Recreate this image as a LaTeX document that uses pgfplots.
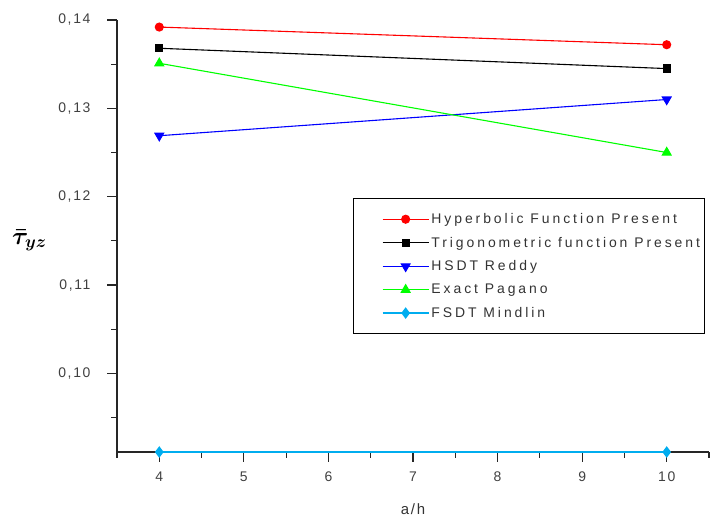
\documentclass[border=0pt]{standalone}
\usepackage{pgfplots}
\pgfplotsset{compat=1.18}
\usepackage{amsmath,amssymb}
\usepackage{fontspec}
\setmainfont{Liberation Sans}
\newfontfamily\legfont[LetterSpace=21]{Liberation Sans}
\newfontfamily\tickfont[LetterSpace=12]{Liberation Sans}
\begin{document}
\begin{tikzpicture}
\begin{axis}[
  set layers,
  at={(117bp,66bp)}, anchor=south west,
  scale only axis, width=592bp, height=432bp,
  xmin=3.5, xmax=10.5, ymin=0.0911, ymax=0.14,
  axis x line=bottom, axis y line=left,
  axis line style={-, line width=1.1bp, black!85},
  xtick={4,5,...,10}, minor xtick={3.5,4.5,...,10.5},
  ytick={0.10,0.11,0.12,0.13,0.14}, minor ytick={0.095,0.105,0.115,0.125,0.135},
  tick align=outside, major tick length=10bp, minor tick length=6bp,
  tick style={line width=1.1bp, black!85},
  ticklabel style={font=\tickfont\fontsize{14}{16}\selectfont, text=black!75},
  /pgf/number format/assume math mode=true,
  yticklabel style={xshift=-13bp, /pgf/number format/.cd, use comma, fixed, fixed zerofill, precision=2},
  xticklabel style={yshift=-6bp},
  xlabel={a/h}, ylabel={$\boldsymbol{\bar{\tau}_{yz}}$},
  xlabel style={at={(axis description cs:0.5,-0.132)}, anchor=center, font=\tickfont\fontsize{15}{17}\selectfont, text=black!80},
  ylabel style={at={(axis description cs:-0.148,0.49)}, anchor=center, rotate=-90, font=\fontsize{24}{26}\selectfont},
  clip=false,
  legend style={at={(0.399,0.588)}, anchor=north west, font=\legfont\fontsize{14}{16}\selectfont,
    draw=black, line width=0.9bp, inner ysep=13bp, inner xsep=3bp, row sep=8bp, text=black!80},
  legend cell align=left,
  legend image code/.code={\path[draw=none] (0bp,0bp) -- (26bp,0bp);
    \draw[mark repeat=2,mark phase=2] plot coordinates {(26bp,0bp)(49bp,0bp)(72bp,0bp)};},
  every axis plot/.append style={line width=1.1bp},
]
\addplot[red, mark=*, mark size=4bp] coordinates {(4,0.1392) (10,0.1372)};
\addlegendentry{Hyperbolic Function Present}
\addplot[black, mark=square*, mark size=3.6bp] coordinates {(4,0.1368) (10,0.1345)};
\addlegendentry{Trigonometric function Present}
\addplot[blue, mark=triangle*, mark size=5bp, mark options={rotate=180}] coordinates {(4,0.1269) (10,0.1310)};
\addlegendentry{HSDT Reddy}
\addplot[green, mark=triangle*, mark size=5bp] coordinates {(4,0.1351) (10,0.1250)};
\addlegendentry{Exact Pagano}
\addplot[cyan, line width=1.6bp, mark=diamond*, mark size=4.5bp] coordinates {(4,0.0911) (10,0.0911)};
\addlegendentry{FSDT Mindlin}
\end{axis}
\pgfresetboundingbox
\path[use as bounding box] (0,0) rectangle (710bp,518bp);
\end{tikzpicture}
\end{document}
